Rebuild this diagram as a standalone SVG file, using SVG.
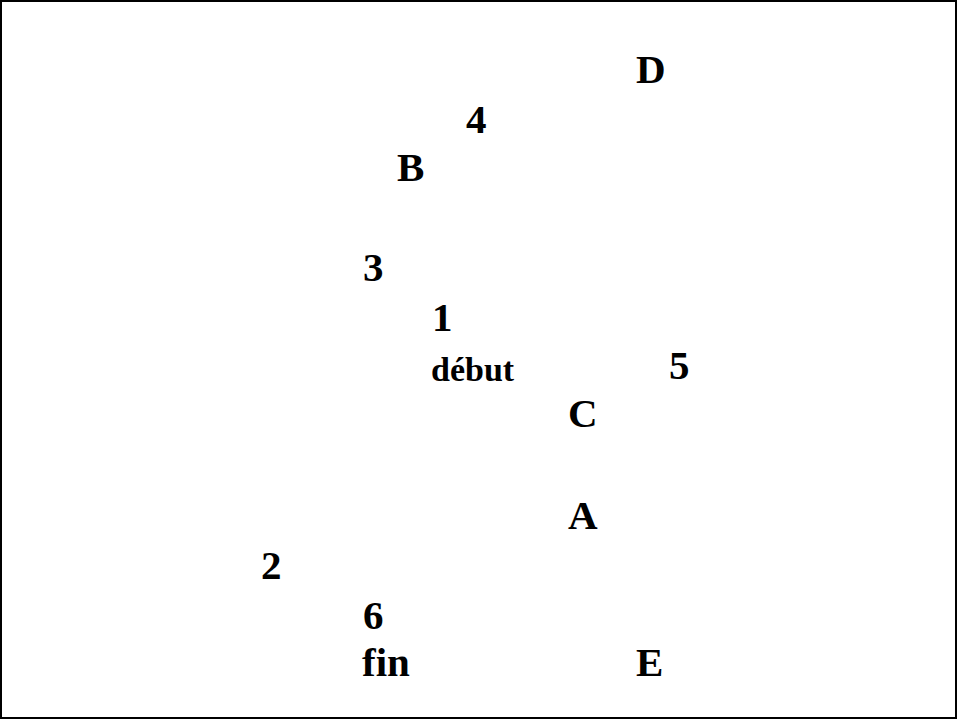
<svg xmlns="http://www.w3.org/2000/svg" width="957" height="720" viewBox="0 0 957 720">
<style>
.t{font-family:"Liberation Serif","Times New Roman",serif;font-weight:bold;font-size:41px;fill:#000}
.s{font-size:34px}
</style>
<rect x="1" y="1" width="955" height="717" fill="#fff" stroke="#000" stroke-width="2"/>
<g id="nodes">
<g id="D"><text class="t" x="636" y="83">D</text></g>
<g id="n4"><text class="t" x="466" y="133">4</text></g>
<g id="B"><text class="t" x="397" y="181">B</text></g>
<g id="n3"><text class="t" x="363" y="281">3</text></g>
<g id="n1"><text class="t" x="432" y="331">1</text></g>
<g id="debut"><text class="t s" x="431" y="381">début</text></g>
<g id="n5"><text class="t" x="669" y="379">5</text></g>
<g id="C"><text class="t" x="568" y="427">C</text></g>
<g id="A"><text class="t" x="568" y="529">A</text></g>
<g id="n2"><text class="t" x="261" y="579">2</text></g>
<g id="n6"><text class="t" x="363" y="629">6</text></g>
<g id="fin"><text class="t" x="362" y="676">fin</text></g>
<g id="E"><text class="t" x="636" y="676">E</text></g>
</g>
<g id="connectors"></g>
</svg>
